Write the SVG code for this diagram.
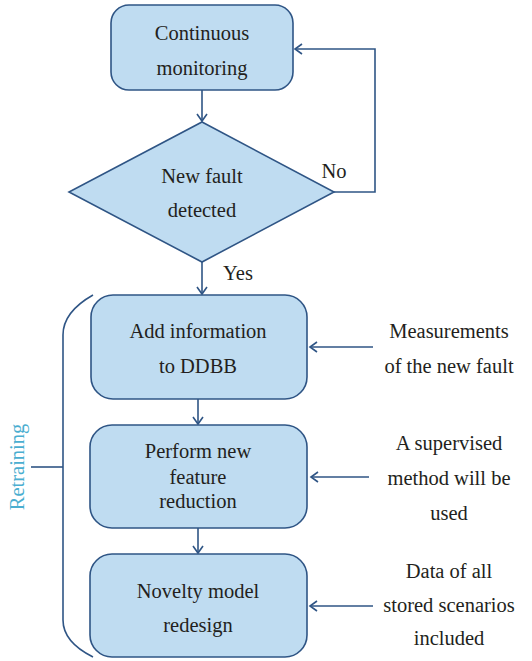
<svg xmlns="http://www.w3.org/2000/svg" width="532" height="661" viewBox="0 0 532 661">
<style>
.node{fill:#bfdcf1;stroke:#2f5585;stroke-width:1.6}
text{font-family:'Liberation Serif','Times New Roman',serif;font-size:20.5px;fill:#231f20;text-anchor:middle}
.c{fill:none;stroke:#2f5585;stroke-width:1.6}
</style>
<defs>
<marker id="ah" markerWidth="12" markerHeight="12" refX="10" refY="6" orient="auto" markerUnits="userSpaceOnUse">
<path d="M3,1 L10,6 L3,11" fill="none" stroke="#2f5585" stroke-width="1.6"/>
</marker>
</defs>
<rect width="532" height="661" fill="#ffffff"/>
<g id="connectors">
<line class="c" x1="202" y1="90" x2="202" y2="121" marker-end="url(#ah)"/>
<polyline class="c" points="334,192 375,192 375,49 295,49" marker-end="url(#ah)"/>
<line class="c" x1="202" y1="262" x2="202" y2="294" marker-end="url(#ah)"/>
<line class="c" x1="198" y1="399" x2="198" y2="424" marker-end="url(#ah)"/>
<line class="c" x1="198" y1="528" x2="198" y2="553" marker-end="url(#ah)"/>
<line class="c" x1="373" y1="347" x2="310" y2="347" marker-end="url(#ah)"/>
<line class="c" x1="369" y1="477" x2="311" y2="477" marker-end="url(#ah)"/>
<line class="c" x1="373" y1="606" x2="310" y2="606" marker-end="url(#ah)"/>
<path class="c" d="M93,295 Q63,312 63,335 L63,620 Q63,642 93,657"/>
<line class="c" x1="31" y1="467" x2="63" y2="467"/>
</g>
<g id="n1"><rect class="node" x="111" y="5" width="182" height="85" rx="18"/>
<text x="202" y="40">Continuous</text><text x="202" y="75">monitoring</text></g>
<g id="n2"><polygon class="node" points="202,122 334,192 202,262 69,192"/>
<text x="202" y="183">New fault</text><text x="202" y="217">detected</text></g>
<g id="lblNo"><text x="334" y="178">No</text></g>
<g id="lblYes"><text x="238" y="280">Yes</text></g>
<g id="n3"><rect class="node" x="91" y="295" width="216" height="104" rx="22"/>
<text x="198" y="338">Add information</text><text x="198" y="373">to DDBB</text></g>
<g id="n4"><rect class="node" x="90" y="425" width="217" height="103" rx="22"/>
<text x="198" y="458">Perform new</text><text x="198" y="484">feature</text><text x="198" y="508">reduction</text></g>
<g id="n5"><rect class="node" x="90" y="554" width="217" height="103" rx="22"/>
<text x="198" y="598">Novelty model</text><text x="198" y="632">redesign</text></g>
<g id="in1"><text x="449" y="338">Measurements</text><text x="449" y="373">of the new fault</text></g>
<g id="in2"><text x="449" y="450">A supervised</text><text x="449" y="485">method will be</text><text x="449" y="520">used</text></g>
<g id="in3"><text x="449" y="578">Data of all</text><text x="449" y="612">stored scenarios</text><text x="449" y="645">included</text></g>
<g id="retraining"><text x="0" y="0" transform="translate(24,467) rotate(-90)" style="fill:#4aaed0">Retraining</text></g>
</svg>
